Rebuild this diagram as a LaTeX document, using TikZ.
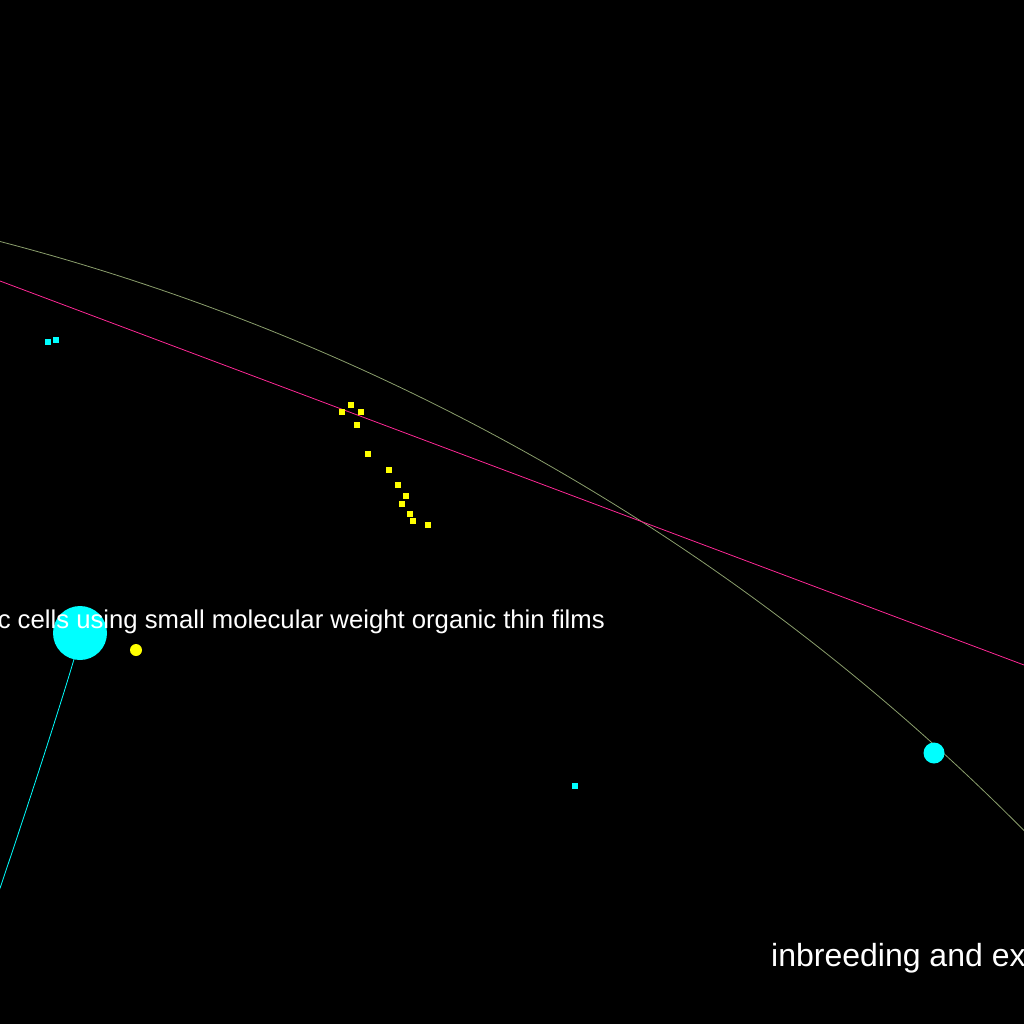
\documentclass[tikz,border=0pt]{standalone}
\usepackage{fontspec}
\setmainfont{Liberation Sans}
\definecolor{olivec}{RGB}{138,158,108}
\definecolor{pinkc}{RGB}{255,40,150}
\definecolor{cyanc}{RGB}{0,255,255}
\definecolor{yelc}{RGB}{255,255,0}
\begin{document}
\begin{tikzpicture}[x=1pt,y=-1pt,
  dotc/.style={circle,fill=cyanc,draw=none,inner sep=0pt},
  doty/.style={circle,fill=yelc,draw=none,inner sep=0pt},
  sqy/.style={rectangle,fill=yelc,draw=none,inner sep=0pt,minimum size=5.5pt},
  sqc/.style={rectangle,fill=cyanc,draw=none,inner sep=0pt,minimum size=5.5pt},
  lbl/.style={text=white,inner sep=0pt}]
\fill[black] (0,0) rectangle (1024,1024);
\useasboundingbox (0,0) rectangle (1024,1024);
\clip (0,0) rectangle (1024,1024);
% curves
\draw[olivec,line width=0.8pt] plot[domain=-10:1040,samples=120,smooth] (\x,{2399.5-100*sqrt(497.06-((\x+560)/100)^2)});
\coordinate (pl) at (-10,277.25);
\coordinate (pr) at (1034,668.75);
\draw[pinkc,line width=0.8pt] (pl) -- (pr);
% nodes
\node[dotc,minimum size=54pt] (big) at (80,633) {};
\coordinate (cend) at (-4,900);
\path (big.south) ++(-6,-1) coordinate (cs);
\draw[cyanc,line width=0.8pt] (cs) .. controls (62,700) and (30,800) .. (cend);
\node[doty,minimum size=12pt] (y1) at (136,650) {};
\node[dotc,minimum size=21pt] (c2) at (934,753) {};
\node[sqc] (s1) at (48,342) {};
\node[sqc] (s2) at (56,340) {};
\node[sqc] (s3) at (575,786) {};
\node[sqy] (a1) at (351,405) {};
\node[sqy] (a2) at (342,412) {};
\node[sqy] (a3) at (361,412) {};
\node[sqy] (a4) at (357,425) {};
\node[sqy] (a5) at (368,454) {};
\node[sqy] (a6) at (389,470) {};
\node[sqy] (a7) at (398,485) {};
\node[sqy] (a8) at (406,496) {};
\node[sqy] (a9) at (402,504) {};
\node[sqy] (a10) at (410,514) {};
\node[sqy] (a11) at (413,521) {};
\node[sqy] (a12) at (428,525) {};
% texts
\node[lbl,anchor=base east,font=\fontsize{25.7}{30}\selectfont] (t1) at (605,628) {c cells using small molecular weight organic thin films};
\node[lbl,anchor=base west,font=\fontsize{32}{36}\selectfont] (t2) at (771,966) {inbreeding and ex};
\end{tikzpicture}
\end{document}
